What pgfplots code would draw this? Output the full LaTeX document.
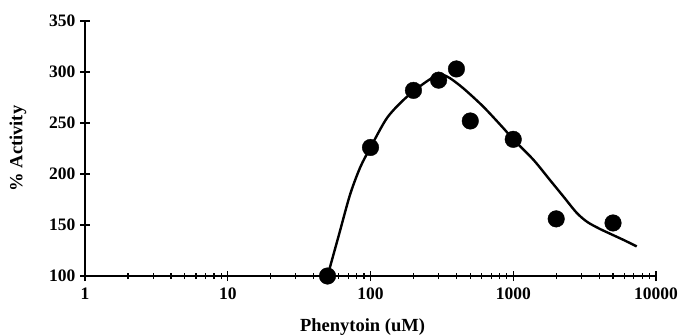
\documentclass[border=0pt]{standalone}
\usepackage{fontspec}
\setmainfont{Liberation Serif}
\usepackage{pgfplots}
\pgfplotsset{compat=1.18}

\begin{document}
\begin{tikzpicture}
\useasboundingbox (-85pt,-59pt) rectangle (594pt,276pt);
\begin{axis}[
  at={(0,0)}, anchor=south west,
  scale only axis,
  width=571pt, height=255pt,
  xmode=log,
  xmin=1, xmax=10000,
  ymin=100, ymax=350,
  axis lines=left,
  axis line style={-, line width=1.3pt},
  xtick={1,10,100,1000,10000},
  xticklabels={1,10,100,1000,10000},
  ytick={100,150,...,350},
  minor x tick num=8,
  tick align=center,
  major tick length=10pt,
  minor tick length=6pt,
  every tick/.style={black, line width=1.2pt},
  tick label style={font=\bfseries\fontsize{17.5}{18}\selectfont},
  /pgf/number format/assume math mode=true,
  xticklabel style={yshift=-3pt},
  yticklabel style={xshift=-1pt},
  xlabel={\bfseries Phenytoin (uM)},
  ylabel={\bfseries \% Activity},
  label style={font=\bfseries\fontsize{18.5}{20}\selectfont},
  xlabel style={yshift=-12pt, xshift=-8pt},
  ylabel style={yshift=16pt},
  clip=false,
]
% fitted response curve
\addplot[black, line width=2.4pt, smooth, tension=0.5] coordinates {
  (50,100) (60,140) (72,180) (85,207) (100,226) (130,254.6) (170,272.5)
  (222,286) (283,296) (315,297.5) (360,294) (447,284) (617,266)
  (852,245) (1000,234) (1383,214) (1810,194) (2244,178) (2780,162)
  (3300,153) (4000,146.5) (4762,141.5) (6000,135) (7330,129)
};
% measured activity
\addplot[only marks, mark=*, mark size=8.3pt, black] coordinates {
  (50,100) (100,226) (200,282) (300,292) (400,303)
  (500,252) (1000,234) (2000,156) (5000,152)
};
\end{axis}
\end{tikzpicture}
\end{document}
